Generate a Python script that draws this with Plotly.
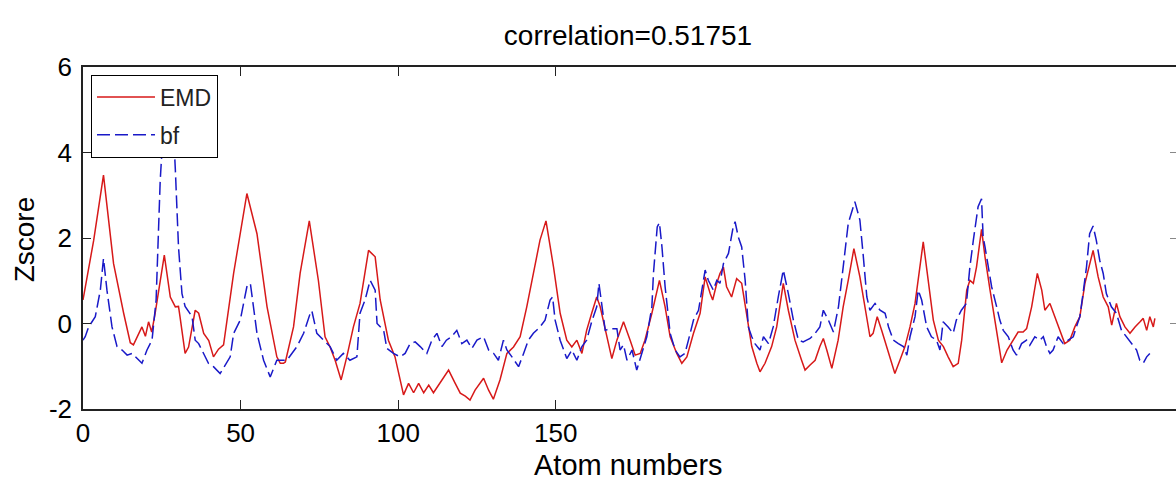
import plotly.graph_objects as go

# ---- data ----
emd_x = [0, 3.4, 6.5, 9.7, 12.9, 15, 16, 18.7, 19.8, 20.8, 21.8, 22.9, 25.8, 27.7, 29.3, 30.3, 30.8, 32.4, 33.5,
         35.6, 36.7, 38.3, 39.9, 41.4, 43, 44.6, 47.8, 52, 55.2, 58.4, 61.5, 62.6, 63.6, 64.2, 66.8, 68.9, 71.8,
         74.7, 76.8, 78.4, 80, 81.9, 83.7, 85.8, 87.9, 90.6, 92.7, 94.3, 96.9, 99, 101.7, 103.3, 104.9, 106.5,
         108.1, 109.7, 111.2, 113.3, 116, 118.1, 119.7, 121.3, 122.8, 124.4, 127.1, 128.7, 130.2, 132.3, 134.5,
         136.6, 138.7, 140.8, 142.9, 145, 146.9, 149.3, 151.4, 153.5, 155.1, 156.7, 158.3, 159.8, 161.4, 163,
         164.1, 165.1, 166.2, 167.8, 169.4, 171.5, 173.6, 175.2, 176.8, 178.3, 180.5, 182.9, 184.7, 186.3,
         188.4, 190, 191.6, 193.7, 195.8, 197.4, 199, 199.8, 201.1, 202.1, 203.2, 204.2, 205.8, 207.4, 209,
         210.6, 212.2, 213.8, 214.8, 216.4, 218.5, 220.1, 222.2, 223.8, 225.9, 228, 229.1, 230.7, 232.3, 233.8,
         234.9, 236, 237.6, 239.6, 241.2, 242.8, 244.6, 246.5, 248.1, 249.7, 250.7, 252, 253.4, 255, 256.6,
         257.6, 259.2, 260.8, 262.4, 264, 266.6, 268.2, 269.8, 271.4, 273, 274.5, 276.1, 277.7, 278.8, 280.4,
         281.4, 282.5, 283.5, 285.1, 286.2, 287.8, 289.4, 290.5, 291.5, 293.2, 295.1, 296.7, 298.3, 299.4, 301,
         302.8, 304.2, 305.2, 306.8, 308.4, 310, 311.5, 313.1, 314.7, 316.3, 317.9, 320.5, 322.1, 323.7, 325.3,
         326.4, 327.9, 329, 330.6, 332.2, 333.8, 335.4, 336.4, 337.5, 338.5, 339.6, 340.1]
emd_y = [0.55, 1.95, 3.47, 1.4, 0.24, -0.45, -0.5, -0.08, -0.3, 0.04, -0.2, 0.24, 1.6, 0.62, 0.39, 0.4, 0.15, -0.7, -0.55,
         0.31, 0.24, -0.23, -0.4, -0.78, -0.6, -0.5, 1.18, 3.04, 2.1, 0.39, -0.78, -0.93, -0.93, -0.9, -0.08, 1.18, 2.4,
         1.0, -0.31, -0.55, -0.86, -1.32, -0.78, -0.08, 0.47, 1.71, 1.56, 0.55, -0.39, -0.78, -1.67, -1.4, -1.62, -1.4,
         -1.62, -1.44, -1.62, -1.4, -1.09, -1.4, -1.63, -1.7, -1.79, -1.56, -1.28, -1.56, -1.77, -1.32, -0.7,
         -0.55, -0.31, 0.39, 1.17, 1.95, 2.4, 1.32, 0.24, -0.39, -0.55, -0.39, -0.7, -0.16, 0.24, 0.62,
         0.39, 0.08, -0.31, -0.82, -0.39, 0.04, -0.39, -0.74, -0.7, -0.39, 0.24, 1.01, 0.39, -0.31,
         -0.7, -0.93, -0.78, -0.23, 0.24, 1.09, 0.7, 0.55, 0.94, 1.17, 1.32, 0.86, 0.62, 1.05, 0.94,
         0.24, -0.54, -0.93, -1.13, -0.93, -0.54, -0.08, 0.94, 0.31, -0.39, -0.86, -1.09, -0.97, -0.86, -0.54,
         -0.35, -0.62, -1.05, -0.39, 0.39, 1.01, 1.75, 1.09, 0.39, -0.31, -0.23, 0.16, -0.16, -0.54, -0.89,
         -1.17, -0.86, -0.54, -0.08, 0.47, 1.91, 1.01, 0.08, -0.39, -0.54, -0.78, -1.01, -0.93, -0.39, 0.78,
         1.01, 0.94, 1.32, 2.2, 1.56, 0.78, 0.0, -0.54, -0.92, -0.62, -0.39, -0.2, -0.2, -0.12, 0.39,
         1.17, 0.78, 0.31, 0.47, 0.16, -0.16, -0.47, -0.39, -0.08, 0.16, 0.94, 1.71, 1.09, 0.62, 0.39,
         -0.04, 0.47, 0.16, -0.08, -0.23, -0.08, 0.04, 0.12, -0.16, 0.16, -0.08, 0.12]

bf_x = [0, 0.7, 1.8, 3.9, 5.5, 6.5, 7.6, 9.2, 10.8, 12.4, 14, 15.6, 17.2, 18.7, 20.3, 21.9, 23.2, 24, 24.5, 25.5,
        26.5, 27.5, 28.5, 29.3, 29.8, 30.3, 31.4, 32.4, 34.6, 35.6, 36.7, 38.3, 39.8, 41.4, 43.5, 46.7, 47.8,
        49.9, 52, 53.1, 55.2, 57.3, 59.4, 61.5, 64.7, 67.9, 70, 72.1, 72.6, 74.2, 76.3, 78.4, 80.5, 82.6, 84.7,
        86.9, 87.9, 89.5, 91.1, 92.7, 93.3, 95.4, 96.4, 98.5, 100.6, 102.2, 103.8, 105.4, 107, 109.1, 110.7,
        112.3, 113.9, 115.3, 116.9, 118.6, 120.2, 121.8, 123.4, 125, 127.1, 128.7, 130.3, 131.8, 133.4, 134.5,
        136.1, 138.2, 139.8, 141.3, 142.9, 145, 146.6, 148.2, 149, 149.8, 151.4, 153.5, 155.1, 156.7, 158.3,
        159.8, 161.4, 163, 163.7, 164.6, 165.7, 167.3, 169.4, 170.4, 171.5, 172.6, 174.2, 175.7, 177.3, 178.9,
        180.5, 181, 182.2, 182.9, 183.7, 184.7, 186.3, 187.9, 189.4, 191, 192.1, 193.7, 195.3, 197.4, 198.4,
        200, 201.1, 202.1, 203.2, 204.8, 206.3, 206.9, 207.9, 209, 210.1, 211.1, 212.2, 213.2, 214.8, 215.9,
        217.5, 219, 220.6, 222.2, 223.8, 225.4, 227, 228.5, 229.6, 230.7, 232.3, 233.8, 234.9, 236.5, 238.1,
        239.7, 241.2, 242.8, 244.9, 246.5, 247.6, 248.7, 249.7, 251.3, 252.9, 254.5, 255.6, 257.1, 258.7,
        260.3, 261.4, 262.4, 264, 265, 266.1, 267.7, 269.2, 270.8, 271.9, 272.9, 274.5, 276.1, 277.1, 278.7,
        280.3, 281.4, 282.5, 284, 285.1, 285.6, 286.2, 287.2, 288.3, 289.9, 290.9, 292, 293.6, 295.1, 296.2,
        297.8, 299.4, 300.4, 302, 303.6, 304.7, 305.7, 306.8, 307.8, 309.4, 311, 312.6, 314.2, 315.2, 316.3,
        317.3, 318.4, 319.4, 320.5, 321.5, 322.6, 323.7, 324.7, 326.3, 327.9, 329.5, 331.1, 332.7, 334.3,
        335.3, 336.4, 337.5, 338.5]
bf_y = [-0.39, -0.31, -0.08, 0.16, 0.78, 1.52, 0.78, -0.08, -0.54, -0.62, -0.74, -0.7, -0.82, -0.93, -0.62, -0.39, 0.55, 2.34, 3.35, 4.6,
        5.2, 5.3, 4.8, 3.6, 2.65, 1.79, 0.7, 0.4, 0.16, -0.39, -0.47, -0.7, -0.93, -1.01, -1.17, -0.78, -0.23,
        0.08, 0.86, 0.94, -0.23, -0.86, -1.25, -0.86, -0.86, -0.54, -0.23, 0.24, 0.3, -0.23, -0.39, -0.54, -0.86, -0.7, -0.86,
        -0.78, 0.24, 0.55, 1.01, 0.78, 0.0, -0.16, -0.58, -0.7, -0.78, -0.7, -0.47, -0.43, -0.54, -0.7, -0.39,
        -0.23, -0.54, -0.39, -0.31, -0.16, -0.47, -0.39, -0.58, -0.39, -0.31, -0.62, -0.7, -0.86, -0.39, -0.62,
        -0.78, -1.01, -0.7, -0.39, -0.23, -0.08, 0.08, 0.55, 0.62, 0.08, -0.39, -0.82, -0.62, -0.86, -0.54,
        -0.39, 0.04, 0.39, 0.94, 0.39, -0.16, -0.12, -0.12, -0.62, -0.5, -0.86, -0.62, -1.09, -0.7, -0.31,
        0.39, 1.17, 2.26, 2.36, 1.79, 0.86, -0.23, -0.62, -0.78, -0.7, -0.39, 0.08, 0.31, 1.25, 1.01,
        0.78, 1.01, 0.94, 1.4, 1.64, 2.26, 2.38, 2.03, 1.79, 1.01, -0.08, -0.31, -0.47, -0.62, -0.31,
        -0.47, -0.08, 0.62, 1.25, 0.7, 0.08, -0.39, -0.43, -0.39, -0.35, -0.23, -0.08, 0.31, 0.08, -0.2,
        0.39, 1.32, 2.34, 2.85, 2.42, 1.56, 0.62, 0.31, 0.47, 0.31, 0.24, -0.08, -0.39, -0.47,
        -0.54, -0.74, -0.31, 0.16, 0.78, 0.55, -0.08, -0.31, -0.39, -0.62, 0.04, -0.08, -0.23, 0.08, 0.31,
        0.47, 1.32, 1.95, 2.73, 2.92, 2.03, 1.79, 1.32, 0.86, 0.39, 0.08, -0.16, -0.31, -0.62, -0.74,
        -0.47, -0.39, -0.51, -0.31, -0.39, -0.31, -0.54, -0.7, -0.62, -0.31, -0.47, -0.39, -0.31, -0.08, 0.16,
        0.7, 1.32, 2.1, 2.28, 1.95, 1.48, 1.17, 0.7, 0.39, 0.24, -0.16, -0.31, -0.47, -0.62,
        -0.86, -0.93, -0.78, -0.7]

x_tick_vals = [0, 50, 100, 150]
y_tick_vals = [-2, 0, 2, 4, 6]
y_tick_text = ["-2", "0", "2", "4", "6"]
title_text = "correlation=0.51751"
x_label = "Atom numbers"
y_label = "Zscore"
series_names = ["EMD", "bf"]

FONT = "Liberation Sans, Arial, sans-serif"

fig = go.Figure()
fig.add_trace(go.Scatter(x=emd_x, y=emd_y, mode="lines", name=series_names[0], legendgroup="a",
                         line=dict(color="rgb(215,25,25)", width=1.5)))
fig.add_trace(go.Scatter(x=bf_x, y=bf_y, mode="lines", name=series_names[1], legendgroup="b",
                         line=dict(color="rgb(25,25,200)", width=1.5, dash="13px,5px")))
# invisible helper trace for right-side mirrored y ticks
fig.add_trace(go.Scatter(x=[], y=[], yaxis="y2", showlegend=False, hoverinfo="skip"))

fig.update_layout(
    width=1176, height=481,
    margin=dict(l=83, r=0, t=67, b=72, autoexpand=False),
    plot_bgcolor="white", paper_bgcolor="white",
    font=dict(family=FONT, color="black"),
    showlegend=True,
    legend=dict(x=0.0073, y=0.978, xanchor="left", yanchor="top",
                bgcolor="white", bordercolor="black", borderwidth=1,
                font=dict(size=23, color="#222222"), tracegroupgap=5, itemwidth=58),
    title=dict(text=title_text, x=0.534, xanchor="center", y=0.927, yanchor="middle",
               font=dict(size=28, family=FONT, color="black")),
    xaxis=dict(range=[0, 346.8], tickvals=x_tick_vals, ticktext=[str(v) for v in x_tick_vals],
               ticks="inside", ticklen=9, tickcolor="#222", showline=True, linecolor="#222",
               linewidth=1.5, mirror="ticks", showgrid=False, zeroline=False, automargin=False,
               tickfont=dict(size=26, family=FONT)),
    yaxis=dict(range=[-2, 6], tickvals=y_tick_vals, ticktext=y_tick_text, ticks="inside", ticklen=8,
               tickcolor="#222", showline=True, linecolor="#222", linewidth=1.5, mirror=False,
               showgrid=False, zeroline=False, automargin=False, tickfont=dict(size=26, family=FONT),
               ticklabelstandoff=4),
    yaxis2=dict(range=[-2, 6], overlaying="y", side="right", tickvals=y_tick_vals,
                ticks="inside", ticklen=6, tickcolor="#888", showticklabels=False,
                showline=False, showgrid=False, zeroline=False, automargin=False),
)

fig.add_annotation(text=x_label, xref="paper", yref="paper", x=0.499, y=-0.163,
                   xanchor="center", yanchor="middle", showarrow=False,
                   font=dict(size=29, family=FONT, color="black"))
fig.add_annotation(text=y_label, xref="paper", yref="paper", x=-0.054, y=0.496,
                   xanchor="center", yanchor="middle", showarrow=False, textangle=-90,
                   font=dict(size=28, family=FONT, color="black"))

fig.write_html("out.html", config={"displayModeBar": False},
               post_script="document.body.style.margin='0';document.body.style.overflow='hidden';")
